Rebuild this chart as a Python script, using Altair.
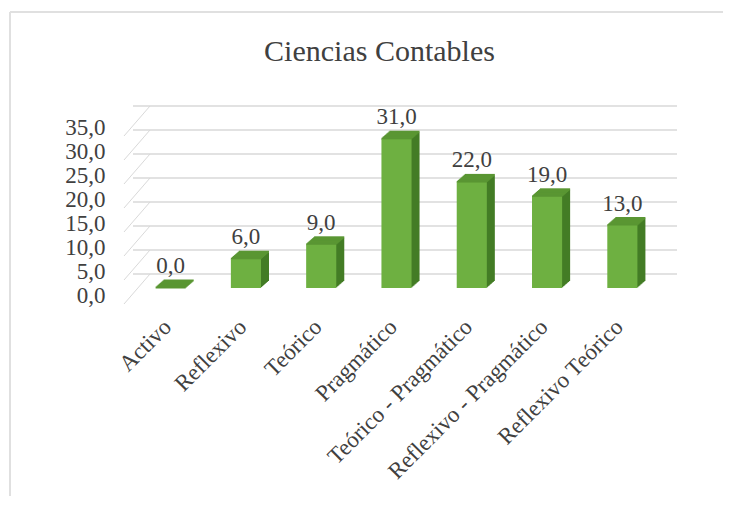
import altair as alt
import pandas as pd

categories = ["Activo", "Reflexivo", "Teórico", "Pragmático",
              "Teórico - Pragmático", "Reflexivo - Pragmático", "Reflexivo Teórico"]
values = [0.0, 6.0, 9.0, 31.0, 22.0, 19.0, 13.0]
ticks = [0, 5, 10, 15, 20, 25, 30, 35]

df = pd.DataFrame({"cat": categories, "val": values})
df["label"] = [f"{v:.1f}".replace(".", ",") for v in values]
grid = pd.DataFrame({"t": ticks})

W, H = 527, 168
FONT = "Liberation Serif"
TXT = "#404040"
FRONT = "#6eb041"
TOP = "#5a9633"
SIDE = "#437c25"
GRID = "#d9d9d9"
DX, DY = 8, 7

xscale = alt.Scale(domain=categories, paddingInner=0.6, paddingOuter=0.3)
yscale = alt.Scale(domain=[0, 35])

x_axis = alt.Axis(title=None, labelAngle=315, labelAlign="right", labelBaseline="middle",
                  labelFont=FONT, labelFontSize=23, labelColor=TXT, labelPadding=35,
                  labelOffset=-3, domain=False, ticks=False, grid=False, labelLimit=0,
                  labelOverlap=False)
y_axis = alt.Axis(title=None, values=ticks,
                  labelExpr="replace(format(datum.value, '.1f'), '.', ',')",
                  labelFont=FONT, labelFontSize=23, labelColor=TXT, labelPadding=28,
                  labelOffset=7, domain=False, ticks=False, grid=False,
                  labelOverlap=False, labelFlush=False)

X = alt.X("cat:N", sort=categories, scale=xscale, axis=x_axis)
Y = alt.Y("val:Q", scale=yscale, axis=y_axis)

base = alt.Chart(df)

# outer frame
frame_top = base.mark_rule(color="#e0e0e0", strokeWidth=2).encode(
    x=alt.value(-123), x2=alt.value(590), y=alt.value(-108))
frame_left = base.mark_rule(color="#e0e0e0", strokeWidth=2).encode(
    x=alt.value(-123), y=alt.value(-108), y2=alt.value(376))

# slanted connectors (floor/wall edge) and back-wall gridlines
conn = alt.Chart(grid).mark_rule(color=GRID, yOffset=16, y2Offset=-14).encode(
    y=alt.Y("t:Q", scale=yscale, axis=y_axis), y2="t:Q",
    x=alt.value(-9), x2=alt.value(17))
gridl = alt.Chart(grid).mark_rule(color=GRID, strokeWidth=1.5, yOffset=-14,
                                  xOffset=17, x2Offset=17).encode(
    y=alt.Y("t:Q", scale=yscale, axis=y_axis))

layers = [frame_top, frame_left, conn, gridl]

# side faces (extruded stack)
for k in range(1, DX + 1):
    off = k * DY / DX
    layers.append(base.mark_bar(color=SIDE, xOffset=k, x2Offset=k,
                                yOffset=-off, y2Offset=-off).encode(x=X, y=Y))

# top faces
for k in range(0, DX + 1):
    off = k * DY / DX
    layers.append(base.mark_bar(color=TOP, xOffset=k, x2Offset=k,
                                yOffset=-off - 1.5, y2Offset=-off + 0.5).encode(
        x=X, y=Y, y2="val:Q"))

front = base.mark_bar(color=FRONT).encode(x=X, y=Y)
labels = base.mark_text(font=FONT, fontSize=23, color=TXT, baseline="alphabetic",
                        dy=-15).encode(x=X, y=Y, text="label:N")

layers += [front, labels]

chart = alt.layer(*layers).properties(
    width=W, height=H,
    padding={"left": 1, "top": 3, "right": 0, "bottom": 0},
    title=alt.TitleParams("Ciencias Contables", font=FONT, fontSize=30,
                          fontWeight="normal", color=TXT, anchor="middle",
                          offset=-56, dx=-17),
).configure_view(stroke=None)

chart.save("out.html", embed_options={"renderer": "svg", "actions": False})
